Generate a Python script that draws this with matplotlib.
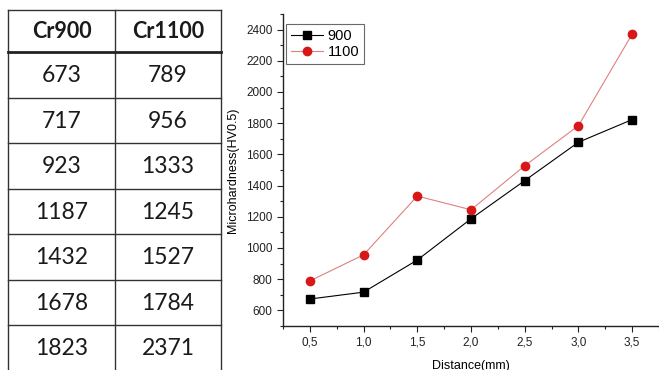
import numpy as np
import matplotlib.pyplot as plt
from matplotlib import font_manager
from matplotlib.ticker import MultipleLocator

# data
distance = [0.5, 1.0, 1.5, 2.0, 2.5, 3.0, 3.5]
cr900 = [673, 717, 923, 1187, 1432, 1678, 1823]
cr1100 = [789, 956, 1333, 1245, 1527, 1784, 2371]
col_names = ["Cr900", "Cr1100"]

W, H = 659, 370
fig = plt.figure(figsize=(W / 100, H / 100), dpi=100)
fig.patch.set_facecolor("white")

# narrow font for the table if we have one (looks like Calibri in the original)
installed = {f.name for f in font_manager.fontManager.ttflist}
narrow = "Liberation Sans Narrow" if "Liberation Sans Narrow" in installed else "Lato"

# table on the left, drawn in pixel coords
tab = fig.add_axes([0, 0, 1, 1])
tab.set_xlim(0, W)
tab.set_ylim(H, 0)
tab.axis("off")

x_lines = [8, 115, 221]
y_top, y_head = 10, 52
row_h = 45.5
row_tops = [y_head + i * row_h for i in range(len(cr900))]
lc = "#333333"
for x in x_lines:
    tab.plot([x, x], [y_top, H], color=lc, lw=1.0)
tab.plot([x_lines[0], x_lines[-1]], [y_top, y_top], color=lc, lw=1.0)
tab.plot([x_lines[0], x_lines[-1]], [y_head, y_head], color="#222222", lw=2.0)
for yt in row_tops[1:]:
    tab.plot([x_lines[0], x_lines[-1]], [yt, yt], color=lc, lw=1.0)

centers = [(x_lines[0] + x_lines[1]) / 2, (x_lines[1] + x_lines[2]) / 2]
for cx, name in zip(centers, col_names):
    tab.text(cx, (y_top + y_head) / 2 + 1, name, ha="center", va="center",
             fontsize=15.5, fontweight="bold", family=narrow, color="#1a1a1a")
for i, (a, b) in enumerate(zip(cr900, cr1100)):
    cy = row_tops[i] + row_h / 2 + 1
    tab.text(centers[0], cy, str(a), ha="center", va="center", fontsize=16.5,
             family=narrow, color="#1a1a1a")
    tab.text(centers[1], cy, str(b), ha="center", va="center", fontsize=16.5,
             family=narrow, color="#1a1a1a")

# line chart on the right
ax = fig.add_axes([283 / W, (H - 326) / H, (W - 283) / W, (326 - 14) / H])
ax.plot(distance, cr900, color="black", lw=0.8, marker="s", markersize=5.5,
        label="900")
ax.plot(distance, cr1100, color="#e08080", lw=0.8, marker="o", markersize=6,
        markerfacecolor="#d81818", markeredgecolor="#d81818", label="1100")

ax.set_xlim(0.25, 3.75)
ax.set_ylim(500, 2500)
ax.xaxis.set_minor_locator(MultipleLocator(0.25))
ax.yaxis.set_minor_locator(MultipleLocator(100))
ax.set_yticks(np.arange(600, 2401, 200))
ax.set_xticks(distance)
ax.set_xticklabels([f"{d:.1f}".replace(".", ",") for d in distance])

for s in ["top", "right"]:
    ax.spines[s].set_visible(False)
for s in ["left", "bottom"]:
    ax.spines[s].set_linewidth(1.0)
    ax.spines[s].set_color("#222222")
ax.tick_params(which="major", direction="out", length=4, width=0.8,
               labelsize=8.5, colors="#222222")
ax.tick_params(which="minor", direction="out", length=2.5, width=0.8,
               colors="#222222")
for lab in ax.get_xticklabels() + ax.get_yticklabels():
    lab.set_family("Liberation Sans")

ax.set_ylabel("Microhardness(HV0.5)", fontsize=9, family="Liberation Sans",
              labelpad=5)
ax.set_xlabel("Distance(mm)", fontsize=9, family="Liberation Sans", labelpad=8)

leg = ax.legend(loc="upper left", bbox_to_anchor=(0.008, 0.968), frameon=True,
                fancybox=False, edgecolor="#444444", borderaxespad=0,
                prop={"family": "Liberation Sans", "size": 10.5},
                handlelength=2.2, handletextpad=0.3, borderpad=0.35,
                labelspacing=0.15)
leg.get_frame().set_linewidth(0.8)

fig.savefig("out.png", dpi=100)
